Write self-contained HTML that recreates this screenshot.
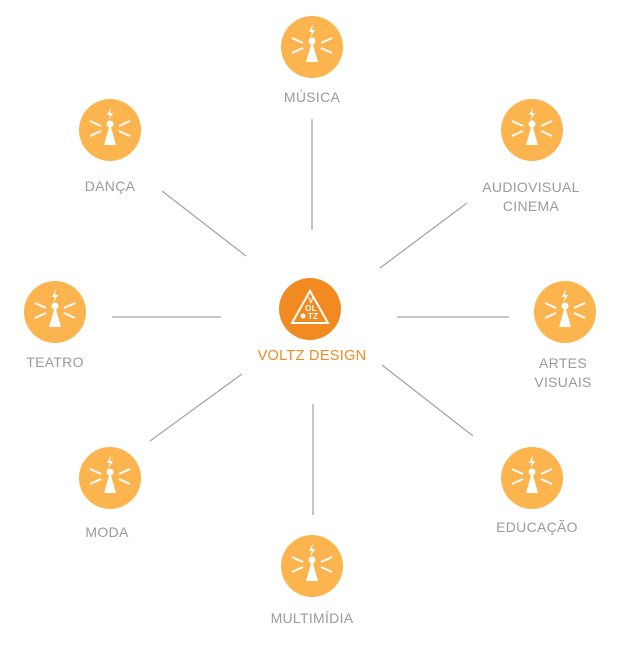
<!DOCTYPE html>
<html><head><meta charset="utf-8"><style>
html,body{margin:0;padding:0;background:#fff;width:620px;height:645px;overflow:hidden}
svg{position:absolute;left:0;top:0}
text{font-family:"Liberation Sans",sans-serif;font-size:14px;fill:#9b9b9b;text-anchor:middle;letter-spacing:0.3px}
</style></head><body>
<svg width="620" height="645" viewBox="0 0 620 645">
<defs>
<g id="ic">
<circle r="31" fill="#fbb44e"/>
<path d="M-6,15 L0,-6 L6,15 Z" fill="#fff"/>
<circle cx="0" cy="-6" r="3.5" fill="#fff"/>
<path d="M1,-23 L-3,-15 L0,-15 L-2,-9 L3,-17 L0,-17 Z" fill="#fff"/>
<path d="M-20,-9 L-9,-4 M-20,6 L-9,1 M20,-9 L9,-4 M20,6 L9,1" stroke="#fff" stroke-width="2"/>
</g>
</defs>
<g stroke="#a6a6a6" stroke-width="1.3">
<line x1="312" y1="119" x2="312" y2="230"/>
<line x1="162" y1="191" x2="246" y2="256"/>
<line x1="467" y1="203" x2="380" y2="268"/>
<line x1="112" y1="317" x2="221" y2="317"/>
<line x1="397" y1="317" x2="509" y2="317"/>
<line x1="242" y1="374" x2="150" y2="441"/>
<line x1="382" y1="365" x2="473" y2="436"/>
<line x1="313" y1="404" x2="313" y2="515"/>
</g>
<use href="#ic" x="312" y="47"/>
<use href="#ic" x="110" y="130"/>
<use href="#ic" x="532" y="130"/>
<use href="#ic" x="55" y="312"/>
<use href="#ic" x="565" y="312"/>
<use href="#ic" x="110" y="478"/>
<use href="#ic" x="532" y="478"/>
<use href="#ic" x="312" y="566"/>
<circle cx="310" cy="309" r="31" fill="#f28a22"/>
<path d="M310,291 L292,323 L328,323 Z" fill="none" stroke="#fff" stroke-width="2"/>
<g style="font-size:8px;fill:#fff;font-weight:bold">
<text x="311" y="303" style="font-size:8px;fill:#fff">V</text>
<text x="311" y="311" style="font-size:8px;fill:#fff">OL</text>
<text x="313" y="319" style="font-size:8px;fill:#fff">TZ</text>
</g>
<circle cx="303" cy="316" r="2.5" fill="#fff"/>
<text x="312" y="360" style="fill:#f28a22;font-size:14.5px">VOLTZ DESIGN</text>
<text x="312" y="102">MÚSICA</text>
<text x="110" y="191">DANÇA</text>
<text x="531" y="192">AUDIOVISUAL</text>
<text x="531" y="211">CINEMA</text>
<text x="55" y="367">TEATRO</text>
<text x="563" y="368">ARTES</text>
<text x="563" y="387">VISUAIS</text>
<text x="107" y="537">MODA</text>
<text x="537" y="532">EDUCAÇÃO</text>
<text x="312" y="623">MULTIMÍDIA</text>
</svg>
</body></html>
